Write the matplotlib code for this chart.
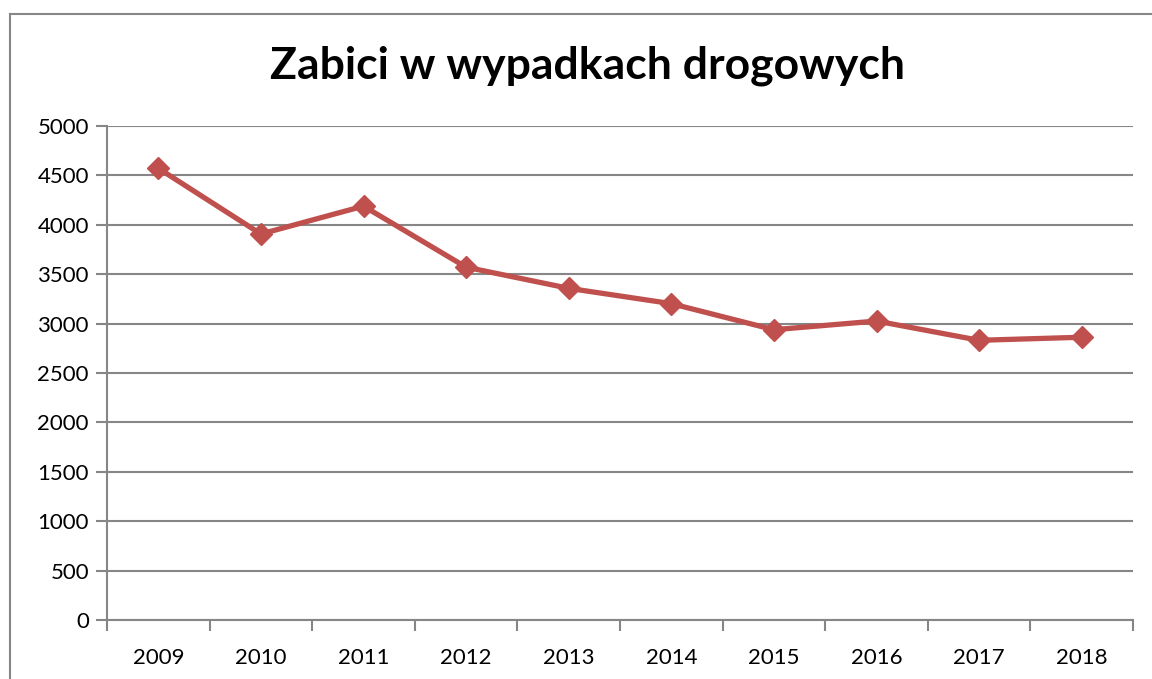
import matplotlib
matplotlib.use("Agg")
import matplotlib.pyplot as plt
import numpy as np
from matplotlib.lines import Line2D

# dane
lata = ["2009", "2010", "2011", "2012", "2013", "2014", "2015", "2016", "2017", "2018"]
zabici = [4572, 3907, 4189, 3571, 3357, 3202, 2938, 3026, 2831, 2862]
y_ticks = [0, 500, 1000, 1500, 2000, 2500, 3000, 3500, 4000, 4500, 5000]

plt.rcParams['font.family'] = ['Lato', 'DejaVu Sans']
szary = "#868686"

fig = plt.figure(figsize=(11.52, 6.79), dpi=100)
ax = fig.add_axes([107/1152, 59/679, (1133-107)/1152, (620-126)/679])

x = np.arange(len(lata))
ax.plot(x, zabici, color="#C0504D", lw=3.8, marker="D", markersize=11,
        markerfacecolor="#C0504D", markeredgecolor="#C0504D", zorder=3)

ax.set_xlim(-0.5, len(lata) - 0.5)
ax.set_ylim(0, 5000)
ax.set_yticks(y_ticks)
ax.set_yticklabels([str(v) for v in y_ticks])
ax.set_xticks(x)
ax.set_xticklabels(lata)
ax.set_xticks(np.arange(-0.5, len(lata), 1), minor=True)

ax.grid(axis="y", color=szary, lw=1.5, zorder=1)
ax.tick_params(axis="y", length=8, width=1.5, color=szary, labelsize=16, pad=5)
ax.tick_params(axis="x", which="major", length=0, labelsize=16, pad=20)
ax.tick_params(axis="x", which="minor", length=8, width=1.5, color=szary)

for s in ["top", "right"]:
    ax.spines[s].set_visible(False)
for s in ["left", "bottom"]:
    ax.spines[s].set_color(szary)
    ax.spines[s].set_linewidth(1.5)

fig.text(587/1152, 1 - 66/679, "Zabici w wypadkach drogowych", ha="center", va="center",
         fontsize=32, fontweight="bold")

# ramka wykresu
fig.add_artist(Line2D([10/1152, 10/1152], [0, 1 - 14/679], transform=fig.transFigure, color=szary, lw=1.5))
fig.add_artist(Line2D([10/1152, 1], [1 - 14/679, 1 - 14/679], transform=fig.transFigure, color=szary, lw=1.5))

fig.savefig("out.png", dpi=100)
